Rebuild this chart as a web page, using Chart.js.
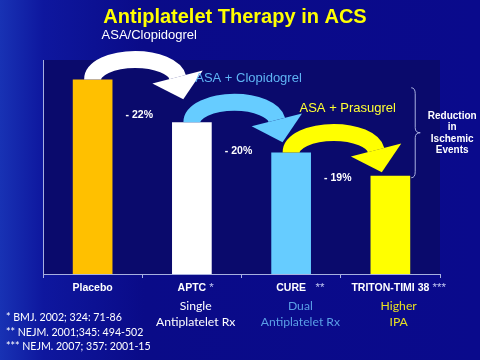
<!DOCTYPE html>
<html>
<head>
<meta charset="utf-8">
<script src="https://cdn.jsdelivr.net/npm/chart.js@4.4.0/dist/chart.umd.min.js"></script>
<style>
  html, body { margin: 0; padding: 0; }
  body {
    width: 480px; height: 360px; overflow: hidden;
    background: linear-gradient(90deg, #1832b4 0%, #0e179e 9%, #0a0b88 30%, #0a0a8c 100%);
  }
</style>
</head>
<body>
<canvas id="chart" width="480" height="360"></canvas>
<script>
// bars: relative ischemic event rate (placebo = 100)
const categories = ["Placebo", "APTC", "CURE", "TRITON-TIMI 38"];
const citeMarks = ["", " *", "   **", " ***"];
const eventRates = [100, 78, 62.5, 50.5];
const barColors = ["#ffc000", "#ffffff", "#66ccff", "#ffff00"];

// arrows between bars
const arrowLabels = ["ASA/Clopidogrel", "ASA + Clopidogrel", "ASA + Prasugrel"];
const arrowColors = ["#ffffff", "#66ccff", "#ffff00"];
const arrowTextColors = ["#ffffff", "#5fb4f4", "#ffff33"];
const reductions = ["- 22%", "- 20%", "- 19%"];

// second/third line under the category names
const subLine1 = ["", "Single", "Dual", "Higher"];
const subLine2 = ["", "Antiplatelet Rx", "Antiplatelet Rx", "IPA"];
const subColors = ["#ffffff", "#ffffff", "#5a9ee6", "#e8e020"];

const braceText = ["Reduction", "in", "Ischemic", "Events"];
const references = ["* BMJ. 2002; 324: 71-86", "** NEJM. 2001;345: 494-502", "*** NEJM. 2007; 357: 2001-15"];

const axisColor = "#a8b0e0";

const slideDecor = {
  id: "slideDecor",
  beforeDraw(chart) {
    const { ctx, chartArea: a } = chart;
    ctx.save();
    ctx.fillStyle = "#0a0a6c";
    ctx.fillRect(a.left, a.top, a.right - a.left, a.bottom - a.top);
    ctx.restore();
  },
  afterDraw(chart) {
    const { ctx, scales: { x, y } } = chart;
    const bars = chart.getDatasetMeta(0).data;
    const cx = i => x.getPixelForValue(i);
    const top = i => y.getPixelForValue(eventRates[i]);
    ctx.save();

    // title
    ctx.fillStyle = "#ffff00";
    ctx.font = "bold 20px 'Liberation Sans'";
    ctx.textAlign = "center";
    ctx.textBaseline = "middle";
    ctx.fillText("Antiplatelet Therapy in ACS", 235, 17);

    // curved arrows from one bar to the next
    for (let i = 0; i < arrowLabels.length; i++) {
      const x0 = cx(i), x1 = cx(i + 1) - 14;
      const mx = (x0 + x1) / 2, rx = (x1 - x0) / 2, my = top(i), ry = 20;
      const end = Math.PI * 2 - 0.12;
      ctx.strokeStyle = arrowColors[i];
      ctx.lineWidth = 17;
      ctx.beginPath();
      ctx.ellipse(mx, my, rx, ry, 0, Math.PI, end);
      ctx.stroke();

      const px = mx + rx * Math.cos(end), py = my + ry * Math.sin(end);
      let dx = -rx * Math.sin(end), dy = ry * Math.cos(end);
      const len = Math.hypot(dx, dy);
      dx /= len; dy /= len;
      ctx.fillStyle = arrowColors[i];
      ctx.beginPath();
      ctx.moveTo(px - dy * 26, py + dx * 26);
      ctx.lineTo(px + dx * 23, py + dy * 23);
      ctx.lineTo(px + dy * 26, py - dx * 26);
      ctx.closePath();
      ctx.fill();

      ctx.fillStyle = arrowTextColors[i];
      ctx.font = "13px 'Liberation Sans'";
      ctx.fillText(arrowLabels[i], mx + 14, my - ry - 24);

      ctx.fillStyle = "#ffffff";
      ctx.font = "bold 10.5px 'Liberation Sans'";
      ctx.fillText(reductions[i], (cx(i) + cx(i + 1)) / 2 - 3, (top(i) + top(i + 1)) / 2 + 14);
    }

    // brace on the right
    const last = bars[bars.length - 1];
    const bx = last.x + last.width / 2 + 5;
    const by1 = top(categories.length - 1) + 2, by0 = by1 - 90, bm = (by0 + by1) / 2;
    ctx.strokeStyle = axisColor;
    ctx.lineWidth = 1;
    ctx.beginPath();
    ctx.moveTo(bx - 4, by0);
    ctx.quadraticCurveTo(bx, by0, bx, by0 + 6);
    ctx.lineTo(bx, bm - 5);
    ctx.quadraticCurveTo(bx, bm, bx + 5, bm);
    ctx.quadraticCurveTo(bx, bm, bx, bm + 5);
    ctx.lineTo(bx, by1 - 6);
    ctx.quadraticCurveTo(bx, by1, bx - 4, by1);
    ctx.stroke();
    ctx.fillStyle = "#ffffff";
    ctx.font = "bold 10px 'Liberation Sans'";
    braceText.forEach((t, k) => ctx.fillText(t, bx + 37, bm - 17 + k * 11.5));

    // citation marks after names, and sub lines
    const nameFont = "bold 10.5px 'Liberation Sans'";
    const labelY = x.top + 14;
    categories.forEach((name, i) => {
      ctx.font = nameFont;
      const w = ctx.measureText(name).width;
      ctx.font = "11.5px 'Liberation Sans'";
      const sw = ctx.measureText(citeMarks[i]).width;
      ctx.textAlign = "left";
      ctx.fillStyle = "#c0c6f0";
      ctx.fillText(citeMarks[i], cx(i) + w / 2, labelY);
      ctx.textAlign = "center";
      ctx.fillStyle = subColors[i];
      ctx.font = "12.2px Lato";
      const sx = cx(i) + sw / 2;
      ctx.fillText(subLine1[i], sx, labelY + 18);
      ctx.fillText(subLine2[i], sx, labelY + 34);
    });

    // references
    ctx.textAlign = "left";
    ctx.fillStyle = "#ffffff";
    ctx.font = "10.6px Lato";
    references.forEach((r, k) => ctx.fillText(r, 6, 318 + k * 14.5));
    ctx.restore();
  }
};

new Chart(document.getElementById("chart"), {
  type: "bar",
  data: {
    labels: categories,
    datasets: [{
      data: eventRates,
      backgroundColor: barColors,
      borderWidth: 0,
      barPercentage: 0.4,
      categoryPercentage: 1
    }]
  },
  options: {
    responsive: false,
    animation: false,
    layout: { padding: { top: 60, right: 40, left: 0, bottom: 0 } },
    plugins: {
      legend: { display: false },
      tooltip: { enabled: false },
      title: { display: false }
    },
    scales: {
      x: {
        afterFit(s) { s.height = 86; },
        ticks: {
          color: "#ffffff",
          padding: 4,
          font: { family: "'Liberation Sans'", size: 10.5, weight: "bold" }
        },
        grid: { drawOnChartArea: false, tickLength: 4, color: axisColor, offset: true },
        border: { color: axisColor }
      },
      y: {
        min: 0,
        max: 110,
        afterFit(s) { s.width = 43; },
        ticks: { display: false },
        grid: { display: false },
        border: { color: axisColor }
      }
    }
  },
  plugins: [slideDecor]
});
</script>
</body>
</html>
